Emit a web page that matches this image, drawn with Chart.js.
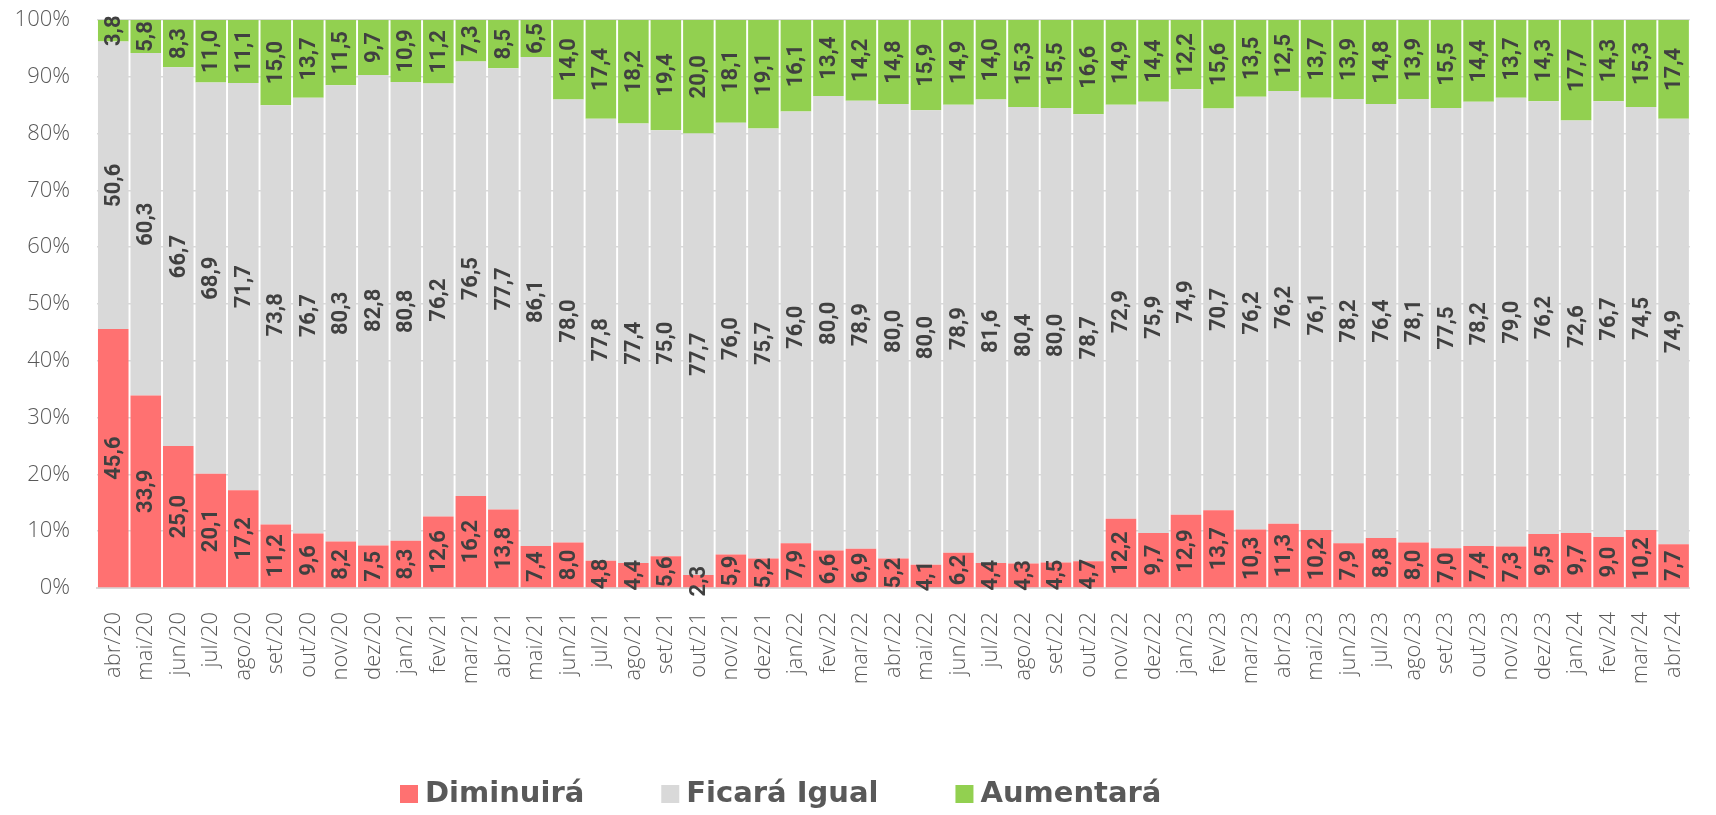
<!DOCTYPE html>
<html>
<head>
<meta charset="utf-8">
<script src="https://cdn.jsdelivr.net/npm/chart.js@4.4.1/dist/chart.umd.min.js"></script>
<style>
  html, body { margin: 0; padding: 0; background: #fff; }
  #wrap { width: 1716px; height: 815px; }
</style>
</head>
<body>
<div id="wrap"><canvas id="chart" width="1716" height="815"></canvas></div>
<script>
const MESES = [
  'abr/20','mai/20','jun/20','jul/20','ago/20','set/20','out/20','nov/20','dez/20',
  'jan/21','fev/21','mar/21','abr/21','mai/21','jun/21','jul/21','ago/21','set/21','out/21','nov/21','dez/21',
  'jan/22','fev/22','mar/22','abr/22','mai/22','jun/22','jul/22','ago/22','set/22','out/22','nov/22','dez/22',
  'jan/23','fev/23','mar/23','abr/23','mai/23','jun/23','jul/23','ago/23','set/23','out/23','nov/23','dez/23',
  'jan/24','fev/24','mar/24','abr/24'
];

const DIMINUIRA = [
  45.6, 33.9, 25.0, 20.1, 17.2, 11.2, 9.6, 8.2, 7.5,
  8.3, 12.6, 16.2, 13.8, 7.4, 8.0, 4.8, 4.4, 5.6, 2.3, 5.9, 5.2,
  7.9, 6.6, 6.9, 5.2, 4.1, 6.2, 4.4, 4.3, 4.5, 4.7, 12.2, 9.7,
  12.9, 13.7, 10.3, 11.3, 10.2, 7.9, 8.8, 8.0, 7.0, 7.4, 7.3, 9.5,
  9.7, 9.0, 10.2, 7.7
];

const FICARA_IGUAL = [
  50.6, 60.3, 66.7, 68.9, 71.7, 73.8, 76.7, 80.3, 82.8,
  80.8, 76.2, 76.5, 77.7, 86.1, 78.0, 77.8, 77.4, 75.0, 77.7, 76.0, 75.7,
  76.0, 80.0, 78.9, 80.0, 80.0, 78.9, 81.6, 80.4, 80.0, 78.7, 72.9, 75.9,
  74.9, 70.7, 76.2, 76.2, 76.1, 78.2, 76.4, 78.1, 77.5, 78.2, 79.0, 76.2,
  72.6, 76.7, 74.5, 74.9
];

const AUMENTARA = [
  3.8, 5.8, 8.3, 11.0, 11.1, 15.0, 13.7, 11.5, 9.7,
  10.9, 11.2, 7.3, 8.5, 6.5, 14.0, 17.4, 18.2, 19.4, 20.0, 18.1, 19.1,
  16.1, 13.4, 14.2, 14.8, 15.9, 14.9, 14.0, 15.3, 15.5, 16.6, 14.9, 14.4,
  12.2, 15.6, 13.5, 12.5, 13.7, 13.9, 14.8, 13.9, 15.5, 14.4, 13.7, 14.3,
  17.7, 14.3, 15.3, 17.4
];

const SERIES = ['Diminuirá', 'Ficará Igual', 'Aumentará'];
const CORES = ['#FF7171', '#D9D9D9', '#92D050'];
const Y_TICKS = [0, 10, 20, 30, 40, 50, 60, 70, 80, 90, 100];

const fmt = v => v.toFixed(1).replace('.', ',');

// value labels, rotated, centred in each stacked segment
const rotulos = {
  id: 'rotulos',
  afterDatasetsDraw(chart) {
    const ctx = chart.ctx;
    ctx.save();
    ctx.font = 'bold 22px Roboto, "Liberation Sans", sans-serif';
    ctx.fillStyle = '#404040';
    ctx.textAlign = 'center';
    ctx.textBaseline = 'middle';
    chart.data.datasets.forEach((ds, di) => {
      const meta = chart.getDatasetMeta(di);
      meta.data.forEach((bar, i) => {
        const p = bar.getProps(['x', 'y', 'base'], true);
        const cy = (p.y + p.base) / 2;
        ctx.save();
        ctx.translate(p.x, cy);
        ctx.rotate(-Math.PI / 2);
        ctx.fillText(fmt(ds.data[i]), 0, 1);
        ctx.restore();
      });
    });
    ctx.restore();
  }
};

// legend row under the axis labels
const legenda = {
  id: 'legenda',
  afterDraw(chart) {
    const ctx = chart.ctx;
    const yMid = 794;
    let x = 400;
    ctx.save();
    ctx.font = 'bold 29px "DejaVu Sans", sans-serif';
    ctx.textBaseline = 'middle';
    chart.data.datasets.forEach(ds => {
      ctx.fillStyle = ds.backgroundColor;
      ctx.fillRect(x, yMid - 9, 18, 18);
      ctx.fillStyle = '#595959';
      ctx.fillText(ds.label, x + 25, yMid);
      x += 25 + ctx.measureText(ds.label).width + 77;
    });
    ctx.restore();
  }
};

new Chart(document.getElementById('chart'), {
  type: 'bar',
  data: {
    labels: MESES,
    datasets: [DIMINUIRA, FICARA_IGUAL, AUMENTARA].map((d, i) => ({
      label: SERIES[i],
      data: d,
      backgroundColor: CORES[i],
      borderWidth: 0,
      barPercentage: 0.94,
      categoryPercentage: 1.0
    }))
  },
  options: {
    responsive: false,
    animation: false,
    layout: { padding: { top: 20, right: 0, bottom: 0, left: 0 } },
    plugins: { legend: { display: false }, tooltip: { enabled: false } },
    scales: {
      x: {
        stacked: true,
        grid: { display: false },
        border: { display: true, color: '#D9D9D9', width: 2 },
        ticks: {
          autoSkip: false,
          minRotation: 90,
          maxRotation: 90,
          padding: 16,
          color: '#595959',
          font: { family: '"Open Sans", sans-serif', size: 22, weight: '300' }
        },
        afterFit(scale) { scale.height = 227; }
      },
      y: {
        stacked: true,
        min: 0,
        max: 100,
        afterBuildTicks(scale) { scale.ticks = Y_TICKS.map(v => ({ value: v })); },
        grid: { color: '#D9D9D9', lineWidth: 1.5, drawTicks: false },
        border: { display: false },
        ticks: {
          padding: 27,
          color: '#595959',
          font: { family: '"Open Sans", sans-serif', size: 22, weight: '300' },
          callback: v => v + '%'
        },
        afterFit(scale) {
          scale.width = 97;
          // tick padding is horizontal only here; keep it out of the vertical layout
          scale.paddingTop = 14;
          scale.paddingBottom = 14;
        }
      }
    }
  },
  plugins: [rotulos, legenda]
});
</script>
</body>
</html>
